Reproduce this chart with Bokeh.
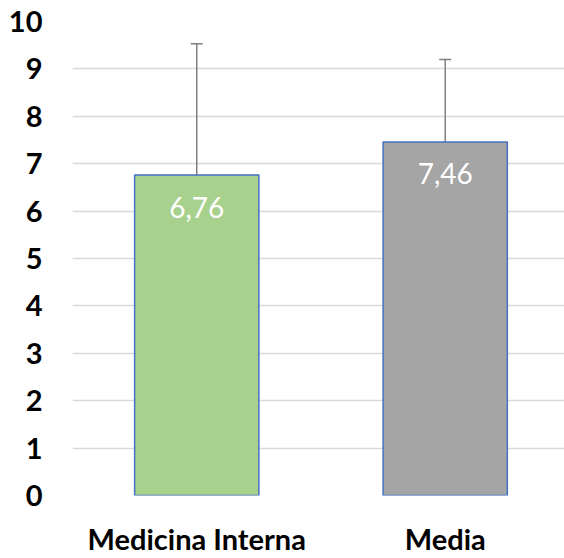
from bokeh.plotting import figure
from bokeh.models import Range1d, ColumnDataSource, Whisker, TeeHead, FixedTicker
from bokeh.core.properties import value
from bokeh.embed import file_html
from bokeh.resources import INLINE

categories = ["Medicina Interna", "Media"]
means = [6.76, 7.46]
errors = [2.77, 1.74]
labels = ["6,76", "7,46"]
colors = ["#A9D18E", "#A5A5A5"]
y_ticks = [0, 1, 2, 3, 4, 5, 6, 7, 8, 9, 10]

xs = [i + 0.5 for i in range(len(categories))]
src = ColumnDataSource(dict(
    x=xs, top=means, upper=[m + e for m, e in zip(means, errors)],
    label=labels, color=colors,
))

p = figure(width=564, height=558, output_backend="svg", toolbar_location=None,
           x_range=Range1d(0, 1.98), y_range=Range1d(0, 10),
           min_border_left=72, min_border_right=0, min_border_top=21, min_border_bottom=57)
p.outline_line_color = None
p.background_fill_color = "white"
p.border_fill_color = "white"

p.vbar(x="x", top="top", width=0.5, bottom=0, source=src, fill_color="color",
       line_color="#4472C4", line_width=1.5)

w = Whisker(base="x", lower="top", upper="upper", source=src,
            line_color="#7F7F7F", line_width=1.5,
            upper_head=TeeHead(size=12, line_color="#7F7F7F", line_width=1.5),
            lower_head=None)
p.add_layout(w)

p.text(x="x", y="top", text="label", source=src, text_color="white",
       text_font=value("Lato"), text_font_size="28px", text_align="center",
       text_baseline="middle", y_offset=32)

p.xgrid.grid_line_color = None
p.ygrid.grid_line_color = "#D9D9D9"
p.ygrid.grid_line_width = 1.5
p.ygrid.ticker = FixedTicker(ticks=y_ticks)

p.yaxis.ticker = FixedTicker(ticks=y_ticks)
p.xaxis.ticker = FixedTicker(ticks=xs)
p.xaxis.major_label_overrides = {x: c for x, c in zip(xs, categories)}

for ax in (p.xaxis[0], p.yaxis[0]):
    ax.axis_line_color = None
    ax.major_tick_line_color = None
    ax.minor_tick_line_color = None
    ax.major_tick_out = 0
    ax.major_tick_in = 0
    ax.minor_tick_out = 0
    ax.major_label_text_font = "Lato"
    ax.major_label_text_font_style = "bold"
    ax.major_label_text_font_size = "29px"
    ax.major_label_text_color = "black"

p.yaxis.major_label_standoff = 30
p.xaxis.major_label_standoff = 25

open("out.html", "w").write(file_html(p, INLINE))
